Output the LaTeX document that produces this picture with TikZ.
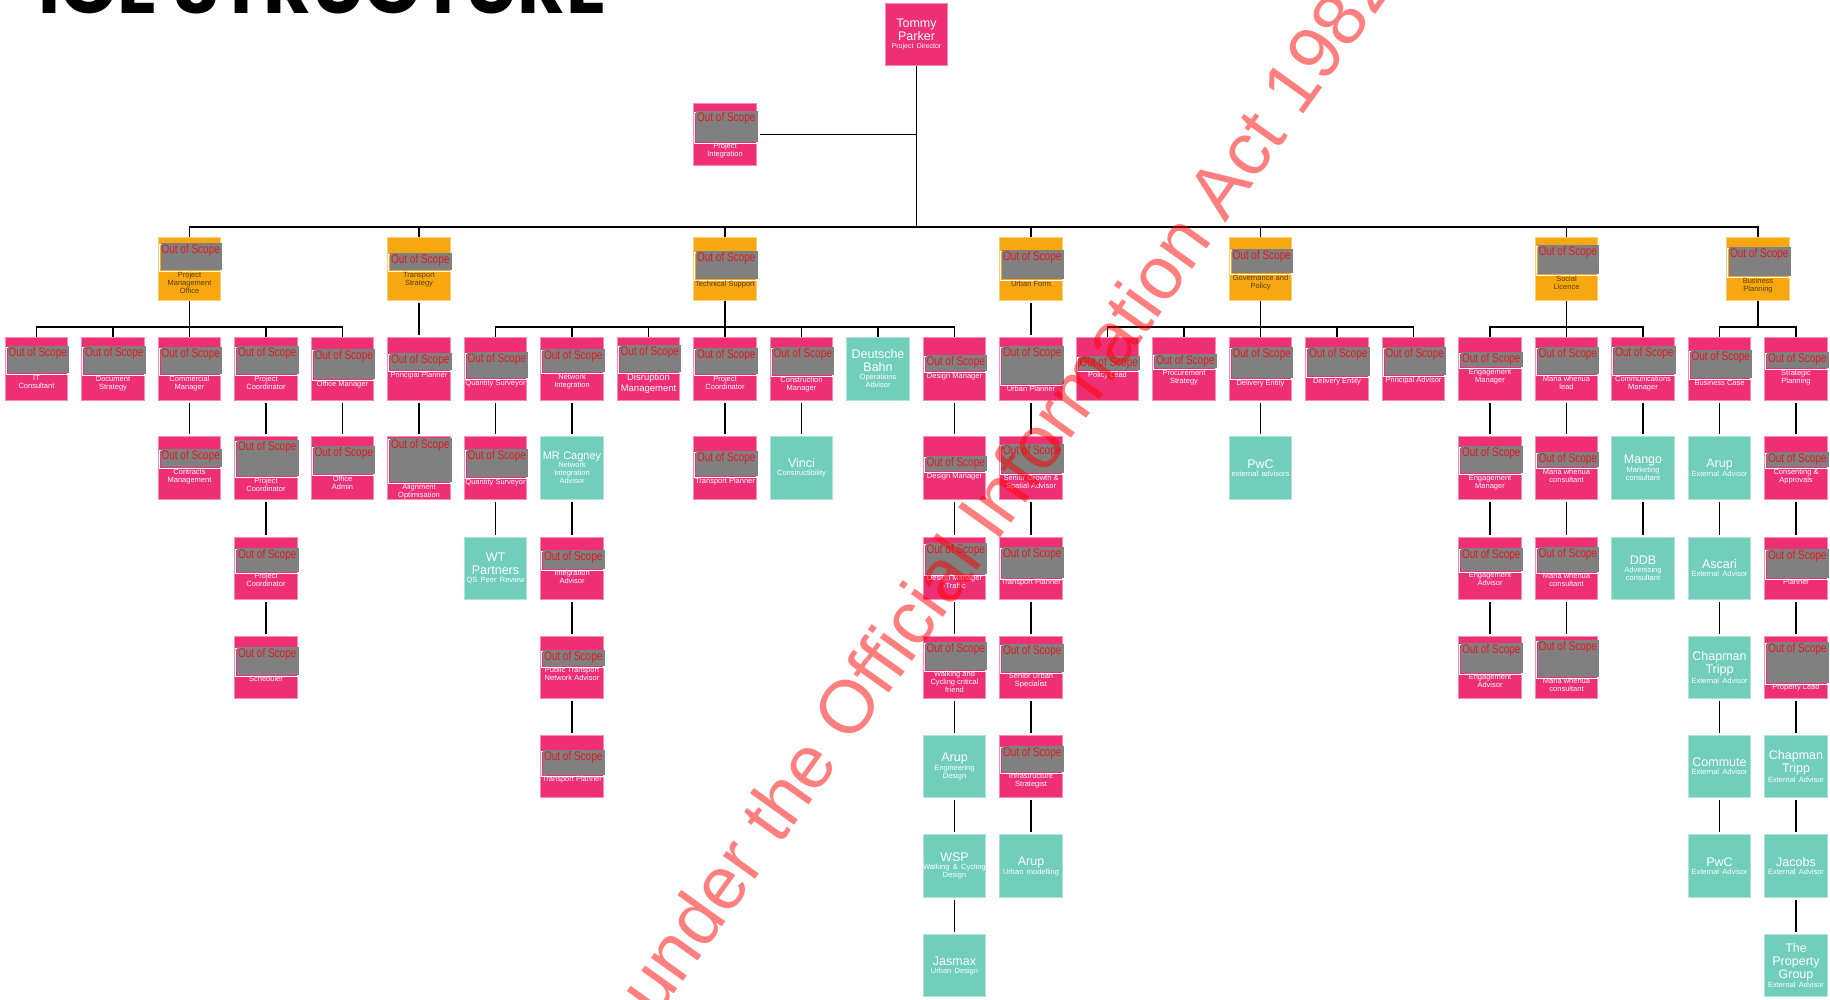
\documentclass[tikz,border=0pt]{standalone}
\usepackage{fontspec}
\usepackage{graphicx}
\setmainfont{Liberation Sans}
\newfontfamily\titlefont{Poppins}

\definecolor{boxpink}{RGB}{239,47,116}
\definecolor{boxorange}{RGB}{247,167,15}
\definecolor{boxteal}{RGB}{112,206,187}
\definecolor{oosgrey}{RGB}{128,128,128}
\definecolor{oosred}{RGB}{228,24,30}
\definecolor{orgtext}{RGB}{85,62,10}

\newcommand{\namefont}{\fontsize{12.5}{13}\selectfont}
\newcommand{\subfont}{\fontsize{7.5}{8}\selectfont}

% redacted block: [role style]{box}{top offset}{grey height}{role text}
\newcommand{\oos}[5][role]{%
  \draw[white, line width=1pt] ([xshift=1.5pt,yshift=-#3pt-1.5pt]#2.north west) rectangle ([xshift=-0.5pt,yshift=-#3pt-#4pt-1.5pt]#2.north east);
  \fill[oosgrey] ([xshift=3pt,yshift=-#3pt]#2.north west) rectangle ([xshift=1pt,yshift=-#3pt-#4pt]#2.north east);
  \node[oostext] (#2-oos) at ([xshift=3.5pt,yshift=-#3pt-1pt]#2.north west) {\scalebox{0.8}[1]{Out of Scope}};
  \node[#1] (#2-role) at ([yshift=-#3pt-#4pt-1.5pt]#2.north) {#5};
}

\begin{document}
\begin{tikzpicture}[x=1pt, y=-1pt,
  box/.style={minimum width=62.5pt, minimum height=62.5pt, inner sep=0pt, line width=0.8pt},
  pinkbox/.style={box, fill=boxpink, draw=boxpink!55!white},
  orangebox/.style={box, fill=boxorange, draw=boxorange!55!white},
  tealbox/.style={box, fill=boxteal, draw=boxteal!55!white, text=white, text width=62pt, align=center},
  link/.style={line width=1.6pt, black},
  role/.style={anchor=north, inner sep=0pt, align=center, text=white, font=\subfont},
  orgrole/.style={role, text=orgtext},
  bigrole/.style={role, font=\fontsize{9.5}{10.5}\selectfont},
  oostext/.style={anchor=north west, inner sep=0pt, text=oosred, font=\fontsize{12.5}{13}\selectfont}]
\useasboundingbox (0,0) rectangle (1830,1000);
\clip (0,0) rectangle (1830,1000);
\fill[white] (0,0) rectangle (1830,1000);

% title (only its lower edge shows)
\begin{scope}
\clip (18,0) rectangle (700,40);
\node[anchor=base east, inner sep=0pt, font=\titlefont\bfseries\fontsize{74.5}{80}\selectfont] (title) at (607,13.5) {OFFICE STRUCTURE};
\end{scope}

% director
\node[pinkbox, text=white, text width=62pt, align=center] (tommy) at (916.5,34.5) {{\namefont Tommy\\Parker\par}{\fontsize{7}{7.5}\selectfont Project Director\par}};
\node[pinkbox] (projint) at (725,134.5) {};
\oos{projint}{8}{31}{Project\\Integration}

% workstreams
\node[orangebox] (pmo) at (189.5,269) {};
\oos[orgrole]{pmo}{6}{27}{Project\\Management\\Office}
\node[orangebox] (transp) at (419,269) {};
\oos[orgrole]{transp}{16}{17}{Transport\\Strategy}
\node[orangebox] (techsup) at (725,269) {};
\oos[orgrole]{techsup}{14}{28}{Technical Support}
\node[orangebox] (urban) at (1031,269) {};
\oos[orgrole]{urban}{13}{29}{Urban Form}
\node[orangebox] (gov) at (1260.5,269) {};
\oos[orgrole]{gov}{12}{24}{Governance and\\Policy}
\node[orangebox] (social) at (1566.5,269) {};
\oos[orgrole]{social}{8}{29}{Social\\Licence}
\node[orangebox] (busplan) at (1758,269) {};
\oos[orgrole]{busplan}{10}{29}{Business\\Planning}

% project management office
\node[pinkbox] (pmo-it) at (36.5,369) {};
\oos{pmo-it}{9}{27}{IT\\Consultant}
\node[pinkbox] (pmo-doc) at (113,369) {};
\oos{pmo-doc}{9}{28}{Document\\Strategy}
\node[pinkbox] (pmo-com) at (189.5,369) {};
\oos{pmo-com}{10}{27}{Commercial\\Manager}
\node[pinkbox] (pmo-pc) at (266,369) {};
\oos{pmo-pc}{9}{28}{Project\\Coordinator}
\node[pinkbox] (pmo-off) at (342.5,369) {};
\oos{pmo-off}{12}{30}{Office Manager}
\node[pinkbox] (pmo-cm2) at (189.5,468) {};
\oos{pmo-cm2}{13}{18}{Contracts\\Management}
\node[pinkbox] (pmo-pc2) at (266,468) {};
\oos{pmo-pc2}{4}{36}{Project\\Coordinator}
\node[pinkbox] (pmo-adm) at (342.5,468) {};
\oos{pmo-adm}{10}{28}{Office\\Admin}
\node[pinkbox] (pmo-pc3) at (266,568.5) {};
\oos{pmo-pc3}{11}{24}{Project\\Coordinator}
\node[pinkbox] (pmo-sch) at (266,667.5) {};
\oos{pmo-sch}{11}{28}{Scheduler}

% transport strategy
\node[pinkbox] (tr-pp) at (419,369) {};
\oos{tr-pp}{16}{17}{Principal Planner}
\node[pinkbox] (tr-ao) at (419,468) {};
\oos{tr-ao}{2}{44}{Alignment\\Optimisation}

% technical support
\node[pinkbox] (ts-qs) at (495.5,369) {};
\oos{ts-qs}{15}{26}{Quantity Surveyor}
\node[pinkbox] (ts-ni) at (572,369) {};
\oos{ts-ni}{12}{23}{Network\\Integration}
\node[pinkbox] (ts-dm) at (648.5,369) {};
\oos[bigrole]{ts-dm}{8}{27}{Disruption\\Management}
\node[pinkbox] (ts-pc) at (725,369) {};
\oos{ts-pc}{11}{26}{Project\\Coordinator}
\node[pinkbox] (ts-cm) at (801.5,369) {};
\oos{ts-cm}{10}{28}{Construction\\Manager}
\node[tealbox] (ts-db) at (878,369) {{\namefont Deutsche\\Bahn\par}{\subfont Operations\\Advisor\par}};
\node[pinkbox] (ts-des) at (954.5,369) {};
\oos{ts-des}{18}{16}{Design Manager}
\node[pinkbox] (ts-qs2) at (495.5,468) {};
\oos{ts-qs2}{13}{28}{Quantity Surveyor}
\node[tealbox] (ts-mrc) at (572,468) {{\fontsize{11}{13}\selectfont MR Cagney\par}{\subfont Network\\Integration\\Advisor\par}};
\node[pinkbox] (ts-tp) at (725,468) {};
\oos{ts-tp}{15}{25}{Transport Planner}
\node[tealbox] (ts-vinci) at (801.5,468) {{\namefont Vinci\par}{\subfont Constructibility\par}};
\node[pinkbox] (ts-des2) at (954.5,468) {};
\oos{ts-des2}{20}{15}{Design Manager}
\node[tealbox] (ts-wt) at (495.5,568.5) {{\namefont WT\\Partners\par}{\subfont QS Peer Review\par}};
\node[pinkbox] (ts-ia) at (572,568.5) {};
\oos{ts-ia}{13}{19}{Integration\\Advisor}
\node[pinkbox] (ts-dmt) at (954.5,568.5) {};
\oos{ts-dmt}{6}{31}{Design Manager\\-Traffic}
\node[pinkbox] (ts-pt) at (572,667.5) {};
\oos{ts-pt}{14}{16}{Public Transport\\Network Advisor}
\node[pinkbox] (ts-wc) at (954.5,667.5) {};
\oos{ts-wc}{6}{28}{Walking and\\Cycling critical\\friend}
\node[pinkbox] (ts-tp2) at (572,766.5) {};
\oos{ts-tp2}{15}{25}{Transport Planner}
\node[tealbox] (ts-arup) at (954.5,766.5) {{\namefont Arup\par}{\subfont Engineering\\Design\par}};
\node[tealbox] (ts-wsp) at (954.5,866) {{\namefont WSP\par}{\subfont \makebox[\linewidth]{Walking \& Cycling}\\Design\par}};
\node[tealbox] (ts-jas) at (954.5,965.5) {{\namefont Jasmax\par}{\subfont Urban Design\par}};

% urban form
\node[pinkbox] (uf-up) at (1031,369) {};
\oos{uf-up}{9}{38}{Urban Planner}
\node[pinkbox] (uf-sg) at (1031,468) {};
\oos{uf-sg}{8}{29}{Senior Growth \&\\Spatial Advisor}
\node[pinkbox] (uf-tp) at (1031,568.5) {};
\oos{uf-tp}{10}{31}{Transport Planner}
\node[pinkbox] (uf-su) at (1031,667.5) {};
\oos{uf-su}{8}{28}{Senior Urban\\Specialist}
\node[pinkbox] (uf-is) at (1031,766.5) {};
\oos{uf-is}{11}{26}{Infrastructure\\Strategist}
\node[tealbox] (uf-arup) at (1031,866) {{\namefont Arup\par}{\subfont Urban modelling\par}};

% governance and policy
\node[pinkbox] (gp-pl) at (1107.5,369) {};
\oos{gp-pl}{19}{14}{Policy Lead}
\node[pinkbox] (gp-ps) at (1184,369) {};
\oos{gp-ps}{17}{14}{Procurement\\Strategy}
\node[pinkbox] (gp-de) at (1260.5,369) {};
\oos{gp-de}{10}{31}{Delivery Entity}
\node[pinkbox] (gp-de2) at (1337,369) {};
\oos{gp-de2}{10}{29}{Delivery Entity}
\node[pinkbox] (gp-pa) at (1413.5,369) {};
\oos{gp-pa}{10}{28}{Principal Advisor}
\node[tealbox] (gp-pwc) at (1260.5,468) {{\namefont PwC\par}{\subfont external advisors\par}};

% social licence
\node[pinkbox] (sl-em) at (1490,369) {};
\oos{sl-em}{15}{15}{Engagement\\Manager}
\node[pinkbox] (sl-mw) at (1566.5,369) {};
\oos{sl-mw}{10}{27}{Mana whenua\\lead}
\node[pinkbox] (sl-cm) at (1643,369) {};
\oos{sl-cm}{9}{28}{Communications\\Manager}
\node[pinkbox] (sl-em2) at (1490,468) {};
\oos{sl-em2}{10}{27}{Engagement\\Manager}
\node[pinkbox] (sl-mw2) at (1566.5,468) {};
\oos{sl-mw2}{16}{15}{Mana whenua\\consultant}
\node[tealbox] (sl-mango) at (1643,468) {{\namefont Mango\par}{\subfont Marketing\\consultant\par}};
\node[pinkbox] (sl-ea) at (1490,568.5) {};
\oos{sl-ea}{11}{23}{Engagement\\Advisor}
\node[pinkbox] (sl-mw3) at (1566.5,568.5) {};
\oos{sl-mw3}{10}{25}{Mana whenua\\consultant}
\node[tealbox] (sl-ddb) at (1643,568.5) {{\namefont DDB\par}{\subfont Advertising\\consultant\par}};
\node[pinkbox] (sl-ea2) at (1490,667.5) {};
\oos{sl-ea2}{7}{30}{Engagement\\Advisor}
\node[pinkbox] (sl-mw4) at (1566.5,667.5) {};
\oos{sl-mw4}{4}{37}{Mana whenua\\consultant}

% business planning
\node[pinkbox] (bp-bc) at (1719.5,369) {};
\oos{bp-bc}{13}{28}{Business Case}
\node[pinkbox] (bp-sp) at (1796,369) {};
\oos{bp-sp}{15}{16}{Strategic\\Planning}
\node[tealbox] (bp-arup) at (1719.5,468) {{\namefont Arup\par}{\subfont External Advisor\par}};
\node[pinkbox] (bp-ca) at (1796,468) {};
\oos{bp-ca}{16}{15}{Consenting \&\\Approvals}
\node[tealbox] (bp-ascari) at (1719.5,568.5) {{\namefont Ascari\par}{\subfont External Advisor\par}};
\node[pinkbox] (bp-pln) at (1796,568.5) {};
\oos{bp-pln}{12}{29}{Planner}
\node[tealbox] (bp-ct) at (1719.5,667.5) {{\namefont Chapman\\Tripp\par}{\subfont External Advisor\par}};
\node[pinkbox] (bp-prop) at (1796,667.5) {};
\oos{bp-prop}{6}{41}{Property Lead}
\node[tealbox] (bp-commute) at (1719.5,766.5) {{\namefont Commute\par}{\subfont External Advisor\par}};
\node[tealbox] (bp-ct2) at (1796,766.5) {{\namefont Chapman\\Tripp\par}{\subfont External Advisor\par}};
\node[tealbox] (bp-pwc) at (1719.5,866) {{\namefont PwC\par}{\subfont External Advisor\par}};
\node[tealbox] (bp-jac) at (1796,866) {{\namefont Jacobs\par}{\subfont External Advisor\par}};
\node[tealbox] (bp-tpg) at (1796,965.5) {{\namefont The\\Property\\Group\par}{\subfont External Advisor\par}};

% top level lines
\coordinate (topbus) at (916.5,227);
\draw[link] (tommy) -- (topbus);
\draw[link, shorten <=3pt] (projint.east) -- (projint.east -| topbus);
\foreach \s in {pmo,transp,techsup,urban,gov,social,busplan}
  \draw[link] (topbus) -| (\s.north);

% group buses
\coordinate (pmobus) at (189.5,327);
\coordinate (tsbus) at (725,327);
\coordinate (gpbus) at (1260.5,327);
\coordinate (slbus) at (1566.5,327);
\coordinate (bpbus) at (1758,327);
\draw[link] (pmo) -- (pmobus);
\draw[link] (techsup) -- (tsbus);
\draw[link] (gov) -- (gpbus);
\draw[link] (social) -- (slbus);
\draw[link] (busplan) -- (bpbus);
\foreach \c in {pmo-it,pmo-doc,pmo-com,pmo-pc,pmo-off}
  \draw[link] (pmobus) -| (\c.north);
\foreach \c in {ts-qs,ts-ni,ts-dm,ts-pc,ts-cm,ts-db,ts-des}
  \draw[link] (tsbus) -| (\c.north);
\foreach \c in {gp-pl,gp-ps,gp-de,gp-de2,gp-pa}
  \draw[link] (gpbus) -| (\c.north);
\foreach \c in {sl-em,sl-mw,sl-cm}
  \draw[link] (slbus) -| (\c.north);
\foreach \c in {bp-bc,bp-sp}
  \draw[link] (bpbus) -| (\c.north);

% column lines
\foreach \a/\b in {pmo-com/pmo-cm2, pmo-pc/pmo-pc2, pmo-pc2/pmo-pc3, pmo-pc3/pmo-sch, pmo-off/pmo-adm,
    transp/tr-pp, tr-pp/tr-ao,
    ts-qs/ts-qs2, ts-qs2/ts-wt, ts-ni/ts-mrc, ts-mrc/ts-ia, ts-ia/ts-pt, ts-pt/ts-tp2,
    ts-pc/ts-tp, ts-cm/ts-vinci,
    ts-des/ts-des2, ts-des2/ts-dmt, ts-dmt/ts-wc, ts-wc/ts-arup, ts-arup/ts-wsp, ts-wsp/ts-jas,
    urban/uf-up, uf-up/uf-sg, uf-sg/uf-tp, uf-tp/uf-su, uf-su/uf-is, uf-is/uf-arup,
    gp-de/gp-pwc,
    sl-em/sl-em2, sl-em2/sl-ea, sl-ea/sl-ea2, sl-mw/sl-mw2, sl-mw2/sl-mw3, sl-mw3/sl-mw4,
    sl-cm/sl-mango, sl-mango/sl-ddb,
    bp-bc/bp-arup, bp-arup/bp-ascari, bp-ascari/bp-ct, bp-ct/bp-commute, bp-commute/bp-pwc,
    bp-sp/bp-ca, bp-ca/bp-pln, bp-pln/bp-prop, bp-prop/bp-ct2, bp-ct2/bp-jac, bp-jac/bp-tpg}
  \draw[link, shorten <=2pt, shorten >=2pt] (\a) -- (\b);

% watermark
\node[rotate=54.4, anchor=base west, inner sep=0pt, text=red, text opacity=0.5,
  font=\fontsize{74.7}{80}\selectfont] (stamp) at (460.3,1292.4) {Released under the Official Information Act 1982};
\end{tikzpicture}
\end{document}
